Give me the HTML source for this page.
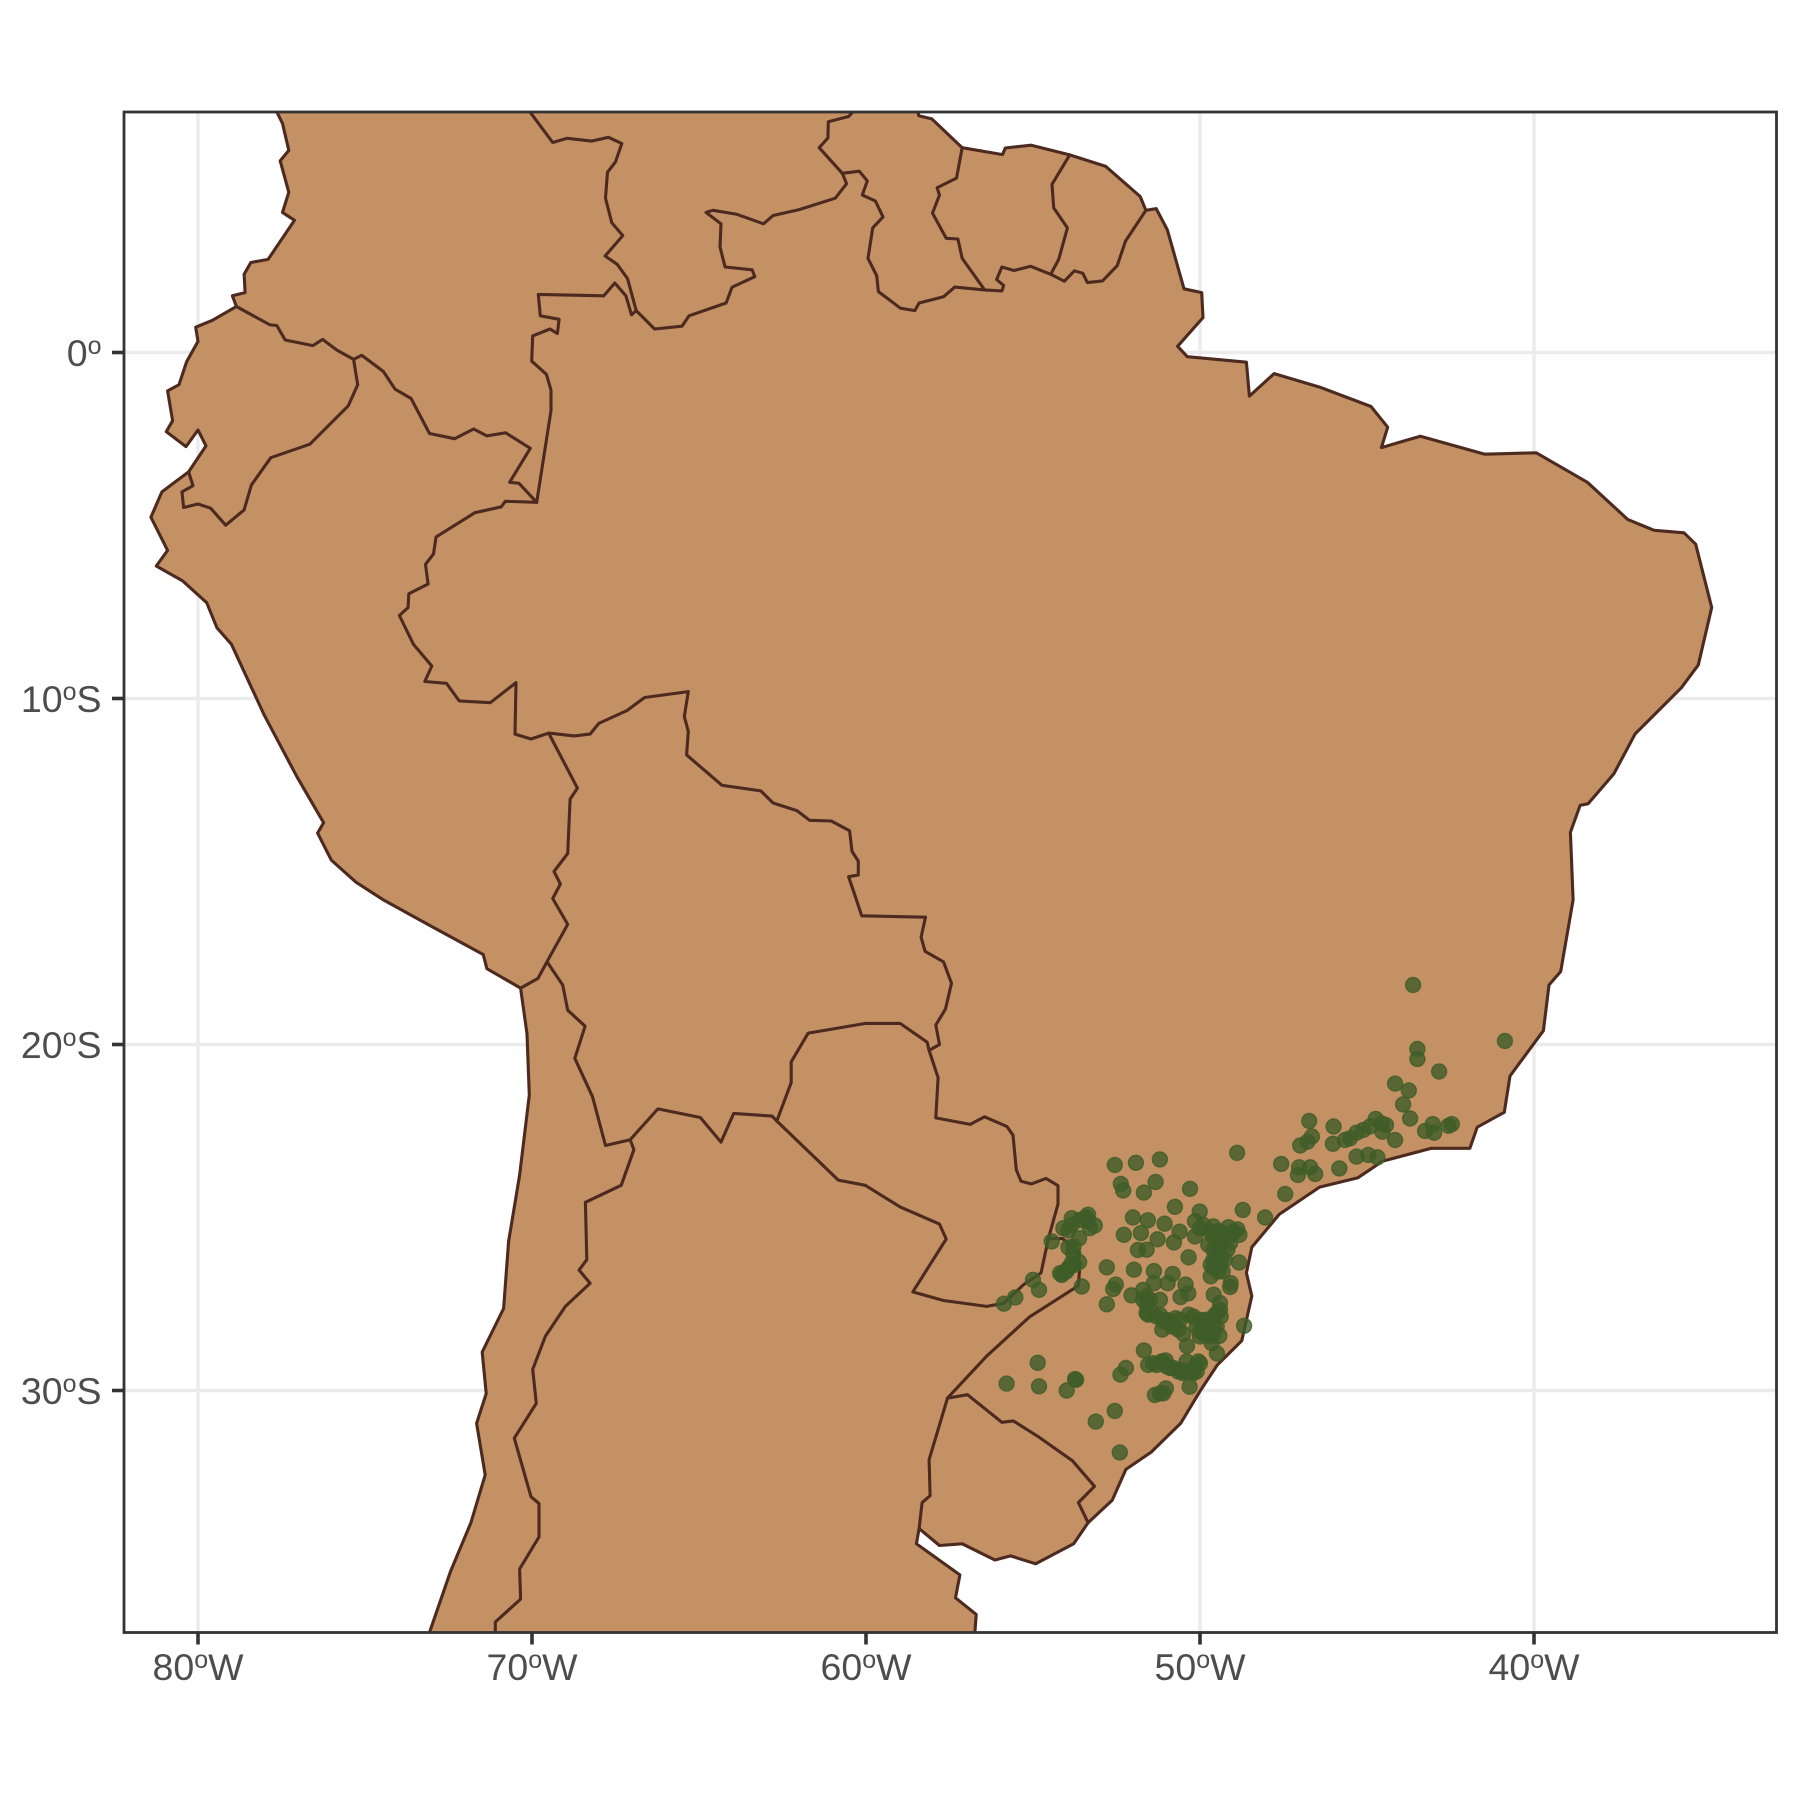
<!DOCTYPE html>
<html>
<head>
<meta charset="utf-8">
<title>Occurrence map of South America</title>
<style>
html,body{margin:0;padding:0;background:#fff;}
svg{display:block;}
text{font-family:"Liberation Sans",Arial,sans-serif;fill:#4d4d4d;}
</style>
</head>
<body>
<svg id="chart" xmlns="http://www.w3.org/2000/svg" width="1800" height="1800" viewBox="0 0 1800 1800">
<defs><clipPath id="panel-clip"><rect x="124" y="112" width="1652.5" height="1520.5"/></clipPath></defs>
<rect x="0" y="0" width="1800" height="1800" fill="#ffffff"/>
<g id="grid"></g>
<g id="map" clip-path="url(#panel-clip)"></g>
<g id="pts" clip-path="url(#panel-clip)"></g>
<rect x="124" y="112" width="1652.5" height="1520.5" fill="none" stroke="#333333" stroke-width="2.8"/>
<g id="axes"></g>
</svg>
<script>
const lonTicks=[-80,-70,-60,-50,-40];
const lonTickLabels=[["80","W"],["70","W"],["60","W"],["50","W"],["40","W"]];
const latTicks=[0,-10,-20,-30];
const latTickLabels=[["0",""],["10","S"],["20","S"],["30","S"]];

const coastline=[[-77.68,7.3],[-77.68,7.03],[-77.47,6.62],[-77.28,5.84],[-77.54,5.54],[-77.28,4.63],[-77.47,4.05],[-77.11,3.82],[-77.90,2.69],[-78.42,2.60],[-78.62,2.26],[-78.59,1.73],[-78.97,1.64],[-78.85,1.33],[-79.57,.93],[-80.07,.73],[-80.00,.32],[-80.34,-.27],[-80.57,-.93],[-80.91,-1.11],[-80.76,-1.97],[-80.95,-2.29],[-80.36,-2.72],[-80.00,-2.24],[-79.76,-2.70],[-80.28,-3.45],[-81.08,-4.03],[-81.41,-4.76],[-80.91,-5.72],[-81.25,-6.17],[-80.46,-6.60],[-79.74,-7.23],[-79.43,-7.96],[-79.00,-8.43],[-78.02,-10.47],[-77.04,-12.26],[-76.24,-13.59],[-76.42,-13.89],[-76.01,-14.67],[-75.27,-15.31],[-74.45,-15.82],[-73.12,-16.53],[-71.46,-17.40],[-71.35,-17.81],[-70.34,-18.37],[-70.15,-19.69],[-70.08,-21.46],[-70.37,-23.78],[-70.70,-25.69],[-70.85,-27.63],[-71.49,-28.89],[-71.37,-30.09],[-71.66,-30.95],[-71.40,-32.44],[-71.83,-33.82],[-72.44,-35.23],[-73.07,-36.99],[-73.21,-37.39],[-56.74,-37.39],[-56.74,-36.99],[-56.70,-36.47],[-57.32,-35.99],[-57.19,-35.33],[-58.49,-34.43],[-58.41,-33.99],[-57.80,-34.48],[-57.12,-34.43],[-56.14,-34.90],[-55.67,-34.78],[-54.92,-35.01],[-53.78,-34.43],[-53.35,-33.82],[-52.63,-33.17],[-52.22,-32.28],[-51.46,-31.78],[-50.58,-30.95],[-50.00,-30.02],[-49.48,-29.26],[-48.75,-28.56],[-48.45,-27.27],[-48.61,-26.60],[-48.45,-25.86],[-47.63,-24.91],[-46.42,-24.12],[-45.27,-23.85],[-44.53,-23.37],[-43.07,-23.00],[-41.92,-23.00],[-41.70,-22.39],[-40.89,-21.96],[-40.72,-20.91],[-39.72,-19.60],[-39.55,-18.28],[-39.20,-17.89],[-38.83,-15.82],[-38.91,-13.87],[-38.62,-13.09],[-38.38,-13.04],[-37.61,-12.18],[-36.97,-11.02],[-35.59,-9.69],[-35.08,-9.03],[-34.68,-7.37],[-35.16,-5.54],[-35.51,-5.21],[-36.40,-5.14],[-37.19,-4.83],[-38.40,-3.75],[-39.93,-2.90],[-41.47,-2.94],[-43.40,-2.42],[-44.57,-2.75],[-44.38,-2.16],[-44.88,-1.56],[-46.42,-1.00],[-47.78,-.61],[-48.52,-1.26],[-48.61,-.28],[-50.38,-.12],[-50.67,.18],[-49.91,1.01],[-49.95,1.73],[-50.48,1.84],[-50.98,3.55],[-51.31,4.16],[-51.62,4.11],[-51.79,4.51],[-52.82,5.38],[-53.90,5.71],[-55.05,5.99],[-55.83,5.91],[-55.91,5.72],[-57.12,5.92],[-58.03,6.75],[-58.42,6.84],[-58.46,7.03],[-58.46,7.3]];

const borderColombiaNorthPeru=[[-78.85,1.33],[-77.85,.80],[-77.64,.78],[-77.39,.36],[-76.56,.20],[-76.27,.38],[-75.84,.07],[-75.34,-.20],[-75.10,-.08],[-74.45,-.55],[-74.10,-1.06],[-73.62,-1.33],[-73.07,-2.34],[-72.32,-2.49],[-71.75,-2.21],[-71.35,-2.41],[-70.79,-2.32],[-70.05,-2.77],[-70.67,-3.75],[-70.39,-3.78],[-69.86,-4.33]];
const borderEcuadorPeru=[[-75.34,-.20],[-75.22,-.93],[-75.50,-1.54],[-76.65,-2.65],[-77.82,-3.04],[-78.40,-3.83],[-78.62,-4.55],[-79.17,-4.99],[-79.62,-4.50],[-80.00,-4.38],[-80.43,-4.48],[-80.48,-4.03],[-80.15,-3.85],[-80.28,-3.45]];
const borderColombiaBrazil=[[-69.86,-4.33],[-69.43,-1.68],[-69.43,-1.09],[-69.57,-.63],[-70.01,-.25],[-69.98,.48],[-69.46,.68],[-69.24,.55],[-69.19,.96],[-69.75,1.06],[-69.81,1.68],[-67.85,1.64],[-67.52,2.01],[-67.19,1.64],[-67.02,1.09],[-66.88,1.21]];
const borderPeruBrazil=[[-69.86,-4.33],[-70.80,-4.30],[-70.92,-4.46],[-71.71,-4.63],[-72.87,-5.33],[-72.95,-5.82],[-73.19,-6.12],[-73.11,-6.69],[-73.69,-6.97],[-73.71,-7.37],[-73.97,-7.60],[-73.55,-8.43],[-73.00,-9.06],[-73.21,-9.51],[-72.56,-9.56],[-72.18,-10.07],[-71.25,-10.12],[-70.48,-9.54],[-70.51,-11.03],[-70.03,-11.17],[-69.50,-11.00]];
const borderPeruBolivia=[[-69.50,-11.00],[-68.64,-12.59],[-68.86,-12.91],[-68.93,-14.48],[-69.34,-15.00],[-69.15,-15.36],[-69.38,-15.78],[-68.93,-16.53],[-69.55,-17.61],[-69.82,-18.09],[-70.34,-18.37]];
const borderBoliviaBrazil=[[-69.50,-11.00],[-68.74,-11.08],[-68.26,-11.03],[-68.00,-10.72],[-67.16,-10.35],[-66.63,-9.97],[-65.32,-9.80],[-65.44,-10.52],[-65.32,-10.95],[-65.37,-11.63],[-64.31,-12.51],[-63.15,-12.67],[-62.78,-13.02],[-62.07,-13.24],[-61.69,-13.52],[-61.04,-13.54],[-60.49,-13.82],[-60.42,-14.42],[-60.23,-14.70],[-60.23,-15.10],[-60.52,-15.15],[-60.28,-15.83],[-60.13,-16.28],[-58.22,-16.32],[-58.35,-16.90],[-58.23,-17.31],[-57.68,-17.61],[-57.44,-18.23],[-57.62,-18.97],[-57.91,-19.44],[-57.80,-20.00],[-58.11,-20.17]];
const borderParaguayBolivia=[[-62.67,-22.21],[-62.24,-21.10],[-62.24,-20.50],[-61.73,-19.67],[-60.01,-19.39],[-58.98,-19.39],[-58.17,-19.93],[-58.11,-20.17]];
const borderBoliviaChile=[[-69.55,-17.61],[-69.08,-18.28],[-68.93,-19.01],[-68.41,-19.47],[-68.72,-20.40],[-68.19,-21.51],[-67.80,-22.92],[-67.06,-22.75]];
const borderBoliviaArgentina=[[-67.06,-22.75],[-66.23,-21.86],[-64.96,-22.11],[-64.34,-22.82],[-63.96,-21.99],[-62.81,-22.07],[-62.67,-22.21]];
const borderArgentinaParaguay=[[-62.67,-22.21],[-60.83,-23.92],[-60.02,-24.07],[-58.97,-24.70],[-57.80,-25.19],[-57.60,-25.62],[-58.60,-27.15],[-57.68,-27.40],[-56.39,-27.57],[-55.88,-27.48],[-55.28,-26.94],[-54.76,-26.60],[-54.54,-25.61]];
const borderParaguayBrazil=[[-54.54,-25.61],[-54.25,-24.61],[-54.25,-24.08],[-54.61,-23.87],[-55.05,-24.03],[-55.36,-23.95],[-55.50,-23.62],[-55.60,-22.62],[-55.78,-22.37],[-56.45,-22.09],[-56.88,-22.31],[-57.91,-22.12],[-57.84,-20.96],[-58.11,-20.17]];
const borderArgentinaBrazil=[[-54.54,-25.61],[-54.11,-25.61],[-53.64,-26.02],[-53.61,-26.57],[-53.64,-26.97],[-55.11,-27.88],[-56.39,-29.01],[-57.56,-30.22]];
const borderUruguayBrazil=[[-57.56,-30.22],[-56.96,-30.12],[-55.93,-30.92],[-55.59,-30.88],[-54.85,-31.33],[-53.82,-32.03],[-53.16,-32.77],[-53.64,-33.24],[-53.35,-33.82]];
const borderUruguayArgentina=[[-57.56,-30.22],[-58.11,-32.00],[-58.08,-33.04],[-58.32,-33.24],[-58.41,-33.99]];
const borderChileArgentina=[[-67.06,-22.75],[-66.95,-23.04],[-67.33,-24.07],[-68.40,-24.56],[-68.36,-26.22],[-68.59,-26.52],[-68.26,-26.90],[-69.00,-27.57],[-69.60,-28.43],[-69.98,-29.39],[-69.87,-30.37],[-70.53,-31.38],[-70.03,-33.07],[-69.79,-33.27],[-69.79,-34.23],[-70.37,-35.16],[-70.34,-36.03],[-71.10,-36.69],[-71.10,-37.22]];
const borderColombiaVenezuela=[[-70.12,7.03],[-69.38,6.07],[-68.95,6.19],[-68.22,6.11],[-67.71,6.22],[-67.31,6.04],[-67.50,5.51],[-67.74,5.21],[-67.80,4.46],[-67.61,3.75],[-67.28,3.38],[-67.81,2.79],[-67.45,2.55],[-67.14,2.14],[-66.88,1.21]];
const borderVenezuelaBrazil=[[-66.88,1.21],[-66.33,.68],[-65.51,.76],[-65.30,1.06],[-64.19,1.43],[-64.01,1.89],[-63.33,2.19],[-63.41,2.39],[-64.22,2.47],[-64.37,3.05],[-64.34,3.72],[-64.79,4.05],[-64.58,4.11],[-63.89,4.00],[-63.07,3.72],[-62.78,3.96],[-62.00,4.13],[-60.92,4.46],[-60.58,4.88],[-60.71,5.18]];
const borderVenezuelaGuyana=[[-60.32,7.03],[-60.52,6.82],[-61.13,6.67],[-61.14,6.20],[-61.40,5.92],[-60.71,5.18]];
const borderGuianasBrazil=[[-60.71,5.18],[-60.20,5.24],[-59.96,4.96],[-60.11,4.55],[-59.72,4.38],[-59.49,3.92],[-59.80,3.60],[-59.94,2.72],[-59.68,2.22],[-59.63,1.76],[-58.97,1.28],[-58.54,1.21],[-58.41,1.43],[-57.68,1.61],[-57.34,1.89],[-56.45,1.81],[-55.93,1.78],[-55.88,1.94],[-56.09,2.11],[-55.93,2.47],[-55.57,2.37],[-55.07,2.49],[-54.47,2.26],[-54.06,2.06],[-53.76,2.36],[-53.51,2.29],[-53.37,2.02],[-52.92,2.07],[-52.48,2.51],[-52.23,3.22],[-51.62,4.11]];
const borderGuyanaSuriname=[[-57.12,5.92],[-57.29,5.04],[-57.87,4.76],[-57.80,4.55],[-58.01,4.03],[-57.60,3.30],[-57.25,3.28],[-57.12,2.72],[-56.45,1.81]];
const borderSurinameGuiana=[[-53.90,5.71],[-54.43,4.86],[-54.38,4.18],[-53.97,3.60],[-54.23,2.69],[-54.47,2.26]];

const occurrenceNortheast=[[-43.62,-18.28],[-40.87,-19.90],[-43.49,-20.13],[-43.49,-20.42],[-42.84,-20.78],[-44.16,-21.13],[-43.75,-21.33],[-43.92,-21.73],[-43.71,-22.14],[-44.74,-22.15],[-44.43,-22.33],[-44.56,-22.28],[-44.54,-22.52],[-44.91,-22.37],[-45.11,-22.47],[-45.31,-22.55],[-45.51,-22.71],[-45.66,-22.76],[-46.02,-22.87],[-46.00,-22.37],[-46.73,-22.21],[-46.65,-22.66],[-46.78,-22.81],[-47.00,-22.92],[-44.16,-22.76],[-43.26,-22.50],[-43.03,-22.30],[-42.99,-22.55],[-42.56,-22.35],[-42.46,-22.30],[-45.31,-23.24],[-44.96,-23.19],[-44.69,-23.26],[-47.57,-23.45],[-47.03,-23.55],[-47.07,-23.77],[-46.70,-23.55],[-46.55,-23.74],[-45.83,-23.58],[-47.45,-24.32],[-48.05,-25.00]];
const occurrenceParana=[[-52.55,-23.48],[-51.92,-23.42],[-51.20,-23.32],[-48.89,-23.13],[-52.37,-24.03],[-52.30,-24.22],[-51.33,-23.97],[-51.68,-24.28],[-50.30,-24.17],[-50.75,-24.69],[-48.72,-24.78],[-50.01,-24.83],[-52.01,-25.00],[-51.56,-25.08],[-51.06,-25.18],[-52.28,-25.50],[-51.77,-25.45],[-50.61,-25.41],[-51.27,-25.63],[-50.78,-25.72],[-51.60,-25.93],[-51.86,-25.94],[-50.34,-26.15],[-50.15,-25.55],[-50.15,-25.11],[-49.90,-25.21],[-49.70,-25.40],[-49.45,-25.40],[-49.15,-25.28],[-48.88,-25.34],[-48.82,-25.50],[-49.05,-25.50],[-49.50,-25.64],[-49.75,-25.79],[-49.45,-25.89],[-49.18,-25.93],[-49.35,-26.15],[-49.68,-26.37],[-49.40,-26.37],[-48.83,-26.30],[-49.68,-26.70],[-49.32,-26.56],[-49.08,-26.90],[-49.10,-27.01],[-50.00,-25.31],[-49.60,-25.26],[-49.30,-25.45],[-49.00,-25.40],[-49.60,-25.55],[-49.35,-25.69],[-49.60,-25.93],[-49.10,-25.74],[-49.50,-26.13],[-49.60,-26.22],[-49.25,-26.22],[-49.45,-26.56],[-49.60,-26.46]];
const occurrenceWest=[[-54.44,-25.69],[-53.84,-25.21],[-53.94,-25.37],[-53.42,-24.99],[-53.35,-25.11],[-53.30,-25.31],[-53.15,-25.23],[-53.62,-25.60],[-53.94,-25.86],[-53.79,-26.05],[-53.62,-26.29],[-53.77,-26.37],[-53.94,-26.46],[-54.09,-26.59],[-54.14,-26.66],[-55.00,-26.80],[-54.82,-27.09],[-55.53,-27.31],[-55.87,-27.49],[-53.54,-26.99],[-53.84,-26.32],[-54.00,-26.56],[-54.19,-26.61],[-53.79,-25.84],[-53.59,-25.07],[-53.35,-24.92],[-54.09,-25.31],[-53.84,-25.02]];
const occurrenceSouth=[[-52.79,-26.44],[-51.98,-26.51],[-51.38,-26.55],[-50.82,-26.63],[-52.52,-26.94],[-52.60,-27.07],[-52.79,-27.51],[-52.05,-27.25],[-51.70,-27.09],[-51.38,-26.90],[-50.97,-26.90],[-51.20,-27.38],[-51.50,-27.38],[-50.43,-26.94],[-50.35,-27.19],[-50.58,-27.30],[-49.59,-27.23],[-51.60,-27.76],[-51.60,-27.52],[-51.30,-27.86],[-51.10,-28.00],[-51.13,-28.24],[-50.73,-27.91],[-50.65,-28.24],[-50.50,-28.36],[-50.34,-27.81],[-50.00,-27.96],[-49.70,-27.96],[-49.40,-27.67],[-49.38,-27.86],[-49.50,-28.15],[-49.80,-28.24],[-50.00,-28.44],[-49.70,-28.44],[-49.42,-28.42],[-50.39,-28.71],[-49.65,-28.63],[-49.49,-28.93],[-48.68,-28.13],[-54.86,-29.20],[-51.68,-28.84],[-52.22,-29.35],[-52.38,-29.54],[-53.74,-29.67],[-55.79,-29.80],[-54.82,-29.88],[-53.99,-30.00],[-53.71,-29.69],[-51.55,-29.26],[-51.30,-29.26],[-51.03,-29.13],[-51.10,-29.21],[-50.90,-29.35],[-50.65,-29.45],[-50.40,-29.16],[-50.40,-29.45],[-50.20,-29.50],[-50.05,-29.16],[-50.00,-29.21],[-50.31,-29.89],[-51.02,-29.94],[-51.20,-30.08],[-51.35,-30.13],[-51.10,-30.08],[-52.55,-30.59],[-53.12,-30.90],[-52.40,-31.79]];
const occurrenceDenseSouth=[[-51.70,-27.38],[-51.60,-27.28],[-51.50,-27.67],[-51.55,-27.81],[-51.20,-27.81],[-51.00,-27.96],[-50.90,-28.00],[-50.85,-28.15],[-50.60,-27.96],[-50.20,-27.86],[-49.85,-27.96],[-49.60,-27.86],[-50.10,-28.15],[-49.90,-28.15],[-49.60,-28.15],[-49.40,-27.47],[-49.50,-27.76],[-50.00,-28.29],[-49.85,-28.39],[-49.60,-28.34],[-51.40,-29.21],[-51.15,-29.16],[-51.00,-29.30],[-50.80,-29.35],[-50.60,-29.40],[-50.50,-29.50],[-50.30,-29.45],[-50.10,-29.45],[-50.15,-29.30]];

const NS='http://www.w3.org/2000/svg';
function xScale(lon){return 198+(lon+80)*33.4;}
function yScale(lat){return 352.5-lat*34.6;}
function pathOf(pts,close){
  return pts.map(function(p,i){return (i?'L':'M')+xScale(p[0]).toFixed(1)+' '+yScale(p[1]).toFixed(1);}).join('')+(close?'Z':'');
}
const grid=document.getElementById('grid');
const map=document.getElementById('map');
const ptsLayer=document.getElementById('pts');
const axes=document.getElementById('axes');

function make(tag,attrs,parent){
  const el=document.createElementNS(NS,tag);
  for(const k in attrs){el.setAttribute(k,attrs[k]);}
  parent.appendChild(el);
  return el;
}

lonTicks.forEach(function(lon,i){
  const x=xScale(lon);
  const g=make('line',{x1:x,x2:x,y1:112,y2:1632.5,stroke:'#ebebeb','stroke-width':3.4},grid);
  
  
  const t=make('line',{x1:x,x2:x,y1:1632.5,y2:1644.5,stroke:'#333333','stroke-width':3.6},axes);
  
  
  const label=make('text',{x:x,y:1680,'text-anchor':'middle','font-size':37.5},axes);
  
  
  const a=make('tspan',{},label);a.textContent=lonTickLabels[i][0];
  const b=make('tspan',{'font-size':25,dy:-12},label);b.textContent='o';
  const c=make('tspan',{dy:12},label);c.textContent=lonTickLabels[i][1];
});
latTicks.forEach(function(lat,i){
  const y=yScale(lat);
  const g=make('line',{x1:124,x2:1776.5,y1:y,y2:y,stroke:'#ebebeb','stroke-width':3.4},grid);
  
  
  const t=make('line',{x1:112,x2:124,y1:y,y2:y,stroke:'#333333','stroke-width':3.6},axes);
  
  
  const label=make('text',{x:101.5,y:y+13.5,'text-anchor':'end','font-size':37.5},axes);
  
  
  const a=make('tspan',{},label);a.textContent=latTickLabels[i][0];
  const b=make('tspan',{'font-size':25,dy:-12},label);b.textContent='o';
  if(latTickLabels[i][1]){
    const c=make('tspan',{dy:12},label);c.textContent=latTickLabels[i][1];
  }
});

const land=make('path',{d:pathOf(coastline,true),fill:'#c49165',stroke:'#4d2a1f','stroke-width':3.1,'stroke-linejoin':'round'},map);



[borderColombiaNorthPeru,borderEcuadorPeru,borderColombiaBrazil,borderPeruBrazil,borderPeruBolivia,borderBoliviaBrazil,borderParaguayBolivia,borderBoliviaChile,borderBoliviaArgentina,borderArgentinaParaguay,borderParaguayBrazil,borderArgentinaBrazil,borderUruguayBrazil,borderUruguayArgentina,borderChileArgentina,borderColombiaVenezuela,borderVenezuelaBrazil,borderVenezuelaGuyana,borderGuianasBrazil,borderGuyanaSuriname,borderSurinameGuiana].forEach(function(line){
  const b=make('path',{d:pathOf(line,false),fill:'none',stroke:'#4d2a1f','stroke-width':3.1,'stroke-linejoin':'round','stroke-linecap':'round'},map);
  
  
});

[occurrenceNortheast,occurrenceParana,occurrenceWest,occurrenceSouth,occurrenceDenseSouth].forEach(function(group){
  group.forEach(function(p){
    const c=make('circle',{cx:xScale(p[0]).toFixed(1),cy:yScale(p[1]).toFixed(1),r:7.5,fill:'#3f5c28','fill-opacity':.8,stroke:'#3f5c28','stroke-opacity':.8,'stroke-width':1.4},ptsLayer);
    
    
  });
});
</script>
</body>
</html>
